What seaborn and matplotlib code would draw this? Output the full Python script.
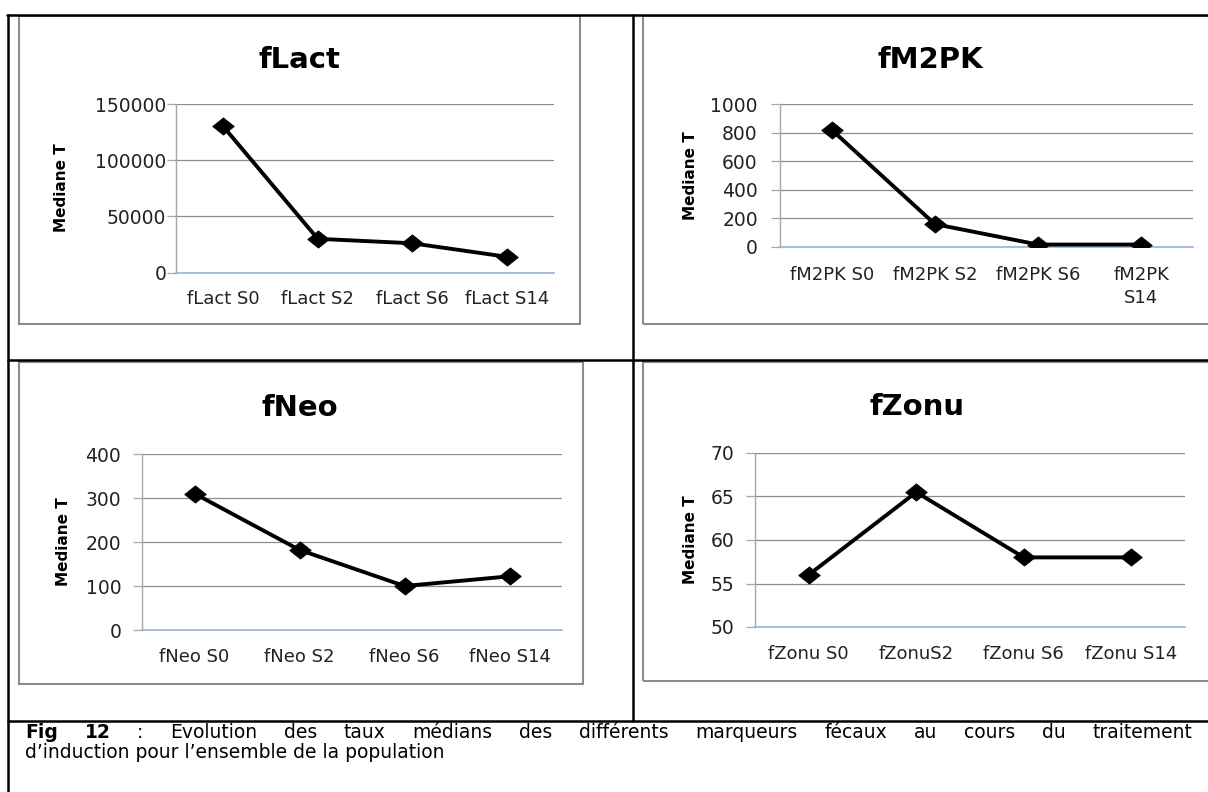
import matplotlib
matplotlib.use("Agg")
import matplotlib.pyplot as plt
from matplotlib.path import Path
from matplotlib.patches import Rectangle
from matplotlib.lines import Line2D
import seaborn as sns
import pandas as pd

# ---------------- data ----------------
categories_lact = ["fLact S0", "fLact S2", "fLact S6", "fLact S14"]
values_lact = [130000, 30000, 26000, 14000]
yticks_lact = [0, 50000, 100000, 150000]

categories_m2pk = ["fM2PK S0", "fM2PK S2", "fM2PK S6", "fM2PK\nS14"]
values_m2pk = [820, 160, 17, 17]
yticks_m2pk = [0, 200, 400, 600, 800, 1000]

categories_neo = ["fNeo S0", "fNeo S2", "fNeo S6", "fNeo S14"]
values_neo = [310, 182, 100, 122]
yticks_neo = [0, 100, 200, 300, 400]

categories_zonu = ["fZonu S0", "fZonuS2", "fZonu S6", "fZonu S14"]
values_zonu = [56, 65.5, 58, 58]
yticks_zonu = [50, 55, 60, 65, 70]

titles = ["fLact", "fM2PK", "fNeo", "fZonu"]
ylabel = "Mediane T"
caption_bold = ["Fig", "12"]
caption_line1 = ": Evolution des taux médians des différents marqueurs fécaux au cours du traitement"
caption_line2 = "d’induction pour l’ensemble de la population"

# ---------------- style ----------------
sns.set_theme(style="white")
plt.rcParams["font.family"] = ["DejaVu Sans"]

W, H = 1208, 792
fig = plt.figure(figsize=(W / 100, H / 100), dpi=100)
fig.patch.set_facecolor("white")


def fx(px):
    return px / W


def fy(py):
    return 1 - py / H


GRID = "#8C8C8C"
BOX = "#8C8C8C"
AXBLUE = "#95B3D7"

diamond = Path([(-1, 0), (0, 0.8), (1, 0), (0, -0.8), (-1, 0)],
               [Path.MOVETO, Path.LINETO, Path.LINETO, Path.LINETO, Path.CLOSEPOLY])

panels = [
    dict(cats=categories_lact, vals=values_lact, yt=yticks_lact, title=titles[0],
         rect=(176, 104, 554, 272.5), title_xy=(299, 68), ylab_xy=(61, 188),
         ypad=0.5, xpad=12.5, xfs=13),
    dict(cats=categories_m2pk, vals=values_m2pk, yt=yticks_m2pk, title=titles[1],
         rect=(780, 104, 1193, 247), title_xy=(930, 68), ylab_xy=(691, 176),
         ypad=9.5, xpad=13.5, xfs=13),
    dict(cats=categories_neo, vals=values_neo, yt=yticks_neo, title=titles[2],
         rect=(142, 454, 562, 630), title_xy=(300, 416), ylab_xy=(64, 542),
         ypad=8.5, xpad=13, xfs=13),
    dict(cats=categories_zonu, vals=values_zonu, yt=yticks_zonu, title=titles[3],
         rect=(755, 453, 1185, 627), title_xy=(917, 415), ylab_xy=(691, 540),
         ypad=8.5, xpad=13, xfs=13),
]

for p in panels:
    l, t, r, b = p["rect"]
    ax = fig.add_axes([fx(l), fy(b), (r - l) / W, (b - t) / H])
    df = pd.DataFrame({"cat": p["cats"], "val": p["vals"]})
    sns.lineplot(data=df, x="cat", y="val", ax=ax, sort=False, color="black",
                 linewidth=2.8, marker=diamond, markersize=15.5,
                 markerfacecolor="black", markeredgecolor="black",
                 markeredgewidth=0.6, zorder=5)
    ax.set_xlim(-0.5, len(p["cats"]) - 0.5)
    ax.set_ylim(p["yt"][0], p["yt"][-1])
    ax.set_yticks(p["yt"])
    ax.set_xlabel("")
    ax.set_ylabel("")
    ax.set_facecolor("none")
    for s in ["top", "right"]:
        ax.spines[s].set_visible(False)
    ax.spines["left"].set_color("#A6A6A6")
    ax.spines["left"].set_linewidth(1.0)
    ax.spines["bottom"].set_color(AXBLUE)
    ax.spines["bottom"].set_linewidth(1.2)
    ax.yaxis.grid(True, color=GRID, linewidth=0.9)
    ax.xaxis.grid(False)
    ax.set_axisbelow(True)
    ax.tick_params(axis="y", which="major", direction="out", length=6.5, width=0.9,
                   color="#A6A6A6", left=True, pad=p["ypad"], labelsize=13.5,
                   labelcolor="#222222")
    ax.tick_params(axis="x", length=0, pad=p["xpad"], labelsize=p["xfs"],
                   labelcolor="#222222")
    if "\n" in "".join(p["cats"]):
        for lab in ax.get_xticklabels():
            lab.set_linespacing(1.35)
    fig.text(fx(p["title_xy"][0]), fy(p["title_xy"][1]), p["title"],
             ha="center", va="baseline", fontsize=21, fontweight="bold", color="black")
    fig.text(fx(p["ylab_xy"][0]), fy(p["ylab_xy"][1]), ylabel, rotation=90,
             ha="center", va="center", fontsize=11, fontweight="bold", color="black")

# ---------------- chart boxes ----------------
boxes = [(18.5, 16, 580, 324), (643, 16, 1214, 324),
         (19, 362, 583, 684), (643, 362, 1214, 681)]
for (x0, y0, x1, y1) in boxes:
    fig.patches.append(Rectangle((fx(x0), fy(y1)), (x1 - x0) / W, (y1 - y0) / H,
                                 transform=fig.transFigure, fill=False,
                                 edgecolor=BOX, linewidth=1.5, zorder=1))

# ---------------- table lines ----------------
tl = [((7, 1208), (15, 15)), ((8, 8), (15, 792)), ((633, 633), (15, 721)),
      ((8, 1208), (360, 360)), ((8, 1208), (721, 721))]
for xs, ys in tl:
    fig.lines.append(Line2D([fx(xs[0]), fx(xs[1])], [fy(ys[0]), fy(ys[1])],
                            transform=fig.transFigure, color="black",
                            linewidth=1.8, zorder=3))

# ---------------- caption (justified first line) ----------------
cap_font = ["DejaVu Sans"]
cap_size = 13.5
renderer = fig.canvas.get_renderer()
tokens = [(w, "bold") for w in caption_bold] + [(w, "normal") for w in caption_line1.split(" ")]
texts = []
total = 0.0
for w, wt in tokens:
    t = fig.text(0, fy(738.5), w, fontsize=cap_size, fontweight=wt, family=cap_font,
                 ha="left", va="baseline", color="black")
    wd = t.get_window_extent(renderer).width
    texts.append((t, wd))
    total += wd
x_left, x_right = 25, 1192
gap = (x_right - x_left - total) / (len(tokens) - 1)
x = x_left
for t, wd in texts:
    t.set_x(fx(x))
    x += wd + gap

fig.text(fx(25), fy(758), caption_line2, fontsize=cap_size, family=cap_font,
         ha="left", va="baseline", color="black")

fig.savefig("out.png", dpi=100, facecolor="white")
